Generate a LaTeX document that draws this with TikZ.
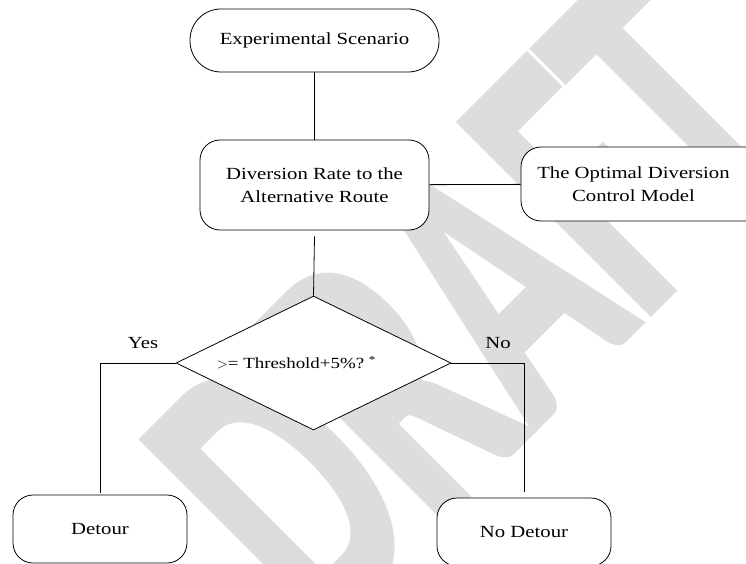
\documentclass[tikz,border=0pt]{standalone}
\usepackage{fontspec}
\setmainfont{Liberation Serif}[FakeStretch=1.22]
\newfontfamily\wmfont{Carlito}[FakeBold=2]
\usepackage{tikz}
\usetikzlibrary{shapes.geometric}

\definecolor{wmgray}{RGB}{221,221,221}

\tikzset{
	box/.style={draw, fill=white, line width=0.8pt, rectangle, rounded corners=20pt, inner sep=0pt, align=center},
	term/.style={box, rounded corners=31pt},
	dia/.style={draw, fill=white, line width=0.8pt, diamond, aspect=2, inner sep=0pt, minimum width=275pt, minimum height=134pt, font=\fontsize{15.5}{18}\selectfont},
	lbl/.style={inner sep=0pt},
	wmark/.style={text=wmgray, font=\wmfont\bfseries\fontsize{250}{250}\selectfont, rotate=45, yscale=1.65, inner sep=0pt, anchor=base west}
}

\begin{document}
\begin{tikzpicture}[x=1pt, y=-1pt, line width=0.8pt, font=\fontsize{17}{22.7}\selectfont]

	\useasboundingbox (0,0) rectangle (746,564);
	\fill[white] (0,0) rectangle (746,564);

	% watermark
	\node[wmark] (draft) at (322,640) {DRAFT};

	\node[term, minimum width=249pt, minimum height=63pt] (scen) at (314.5,40.5) {Experimental Scenario};
	\node[box, minimum width=229pt, minimum height=90pt] (rate) at (314.5,185) {Diversion Rate to the\\Alternative Route};
	\node[box, minimum width=250pt, minimum height=74pt] (model) at (646,184) {\hspace*{-25pt}The Optimal Diversion\\\hspace*{-25pt}Control Model};
	\node[dia] (dec) at (313.5,363) {$>$= Threshold+5\%?\ \textsuperscript{*}\hspace*{34pt}};
	\node[box, minimum width=174pt, minimum height=68pt] (det) at (100,529) {Detour};
	\node[box, minimum width=174pt, minimum height=68pt] (nodet) at (524,532) {No Detour};

	\node[lbl] (yes) at (143,343) {Yes};
	\node[lbl] (no) at (498,343) {No};

	\draw (scen) -- (rate);
	\draw (rate) -- (model);
	\draw ([yshift=-6pt]rate.south) -- (dec.north);
	\draw (dec.west) -| ([yshift=2pt]det.north);
	\draw (dec.east) -| ([yshift=6pt]nodet.north);

\end{tikzpicture}
\end{document}
